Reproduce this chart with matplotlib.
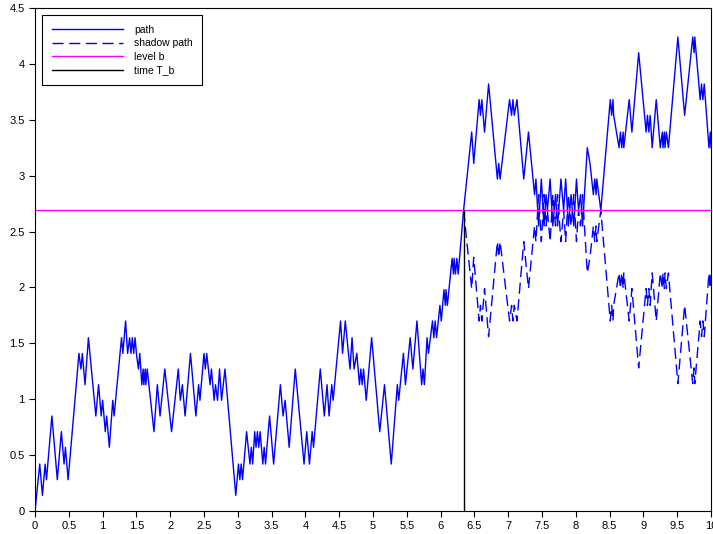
import matplotlib
matplotlib.use("Agg")
import matplotlib.pyplot as plt
from matplotlib.ticker import FormatStrFormatter, MultipleLocator

plt.rcParams['font.family'] = ['Liberation Sans', 'DejaVu Sans']

# Turning points of the random walk (time, value)
path_t = [0.00, 0.07, 0.11, 0.15, 0.17, 0.25, 0.33, 0.39, 0.43, 0.45, 0.49,
          0.65, 0.68, 0.70, 0.74, 0.79, 0.90, 0.94, 0.98, 1.00, 1.04, 1.06,
          1.10, 1.15, 1.17, 1.28, 1.30, 1.34, 1.37, 1.40, 1.42, 1.44, 1.46,
          1.48, 1.50, 1.53, 1.55, 1.58, 1.60, 1.61, 1.63, 1.64, 1.66, 1.76,
          1.81, 1.85, 1.92, 2.02, 2.12, 2.15, 2.18, 2.22, 2.30, 2.38, 2.42,
          2.44, 2.50, 2.52, 2.54, 2.59, 2.61, 2.65, 2.67, 2.70, 2.73, 2.76,
          2.81, 2.97, 3.01, 3.03, 3.05, 3.07, 3.13, 3.18, 3.20, 3.22, 3.25,
          3.27, 3.29, 3.31, 3.33, 3.37, 3.39, 3.41, 3.47, 3.53, 3.63, 3.67,
          3.70, 3.76, 3.85, 3.98, 4.02, 4.06, 4.10, 4.12, 4.22, 4.28, 4.32,
          4.35, 4.39, 4.41, 4.52, 4.55, 4.59, 4.66, 4.69, 4.72, 4.76, 4.80,
          4.82, 4.84, 4.86, 4.90, 4.98, 5.10, 5.17, 5.27, 5.36, 5.38, 5.45,
          5.48, 5.55, 5.59, 5.65, 5.72, 5.74, 5.76, 5.80, 5.82, 5.88, 5.90,
          5.92, 5.94, 5.99, 6.01, 6.05, 6.07, 6.08, 6.10, 6.17, 6.19, 6.20,
          6.22, 6.24, 6.26, 6.34, 6.46, 6.49, 6.57, 6.59, 6.61, 6.65, 6.71,
          6.84, 6.86, 6.88, 7.02, 7.05, 7.07, 7.09, 7.13, 7.23, 7.30, 7.39,
          7.41, 7.45, 7.49, 7.53, 7.56, 7.58, 7.62, 7.66, 7.70, 7.73, 7.78,
          7.82, 7.85, 7.89, 7.93, 7.97, 8.01, 8.04, 8.07, 8.10, 8.17, 8.21,
          8.26, 8.28, 8.30, 8.31, 8.37, 8.51, 8.53, 8.55, 8.56, 8.64, 8.66,
          8.68, 8.70, 8.71, 8.79, 8.83, 8.93, 9.04, 9.06, 9.08, 9.10, 9.13,
          9.19, 9.25, 9.28, 9.29, 9.31, 9.32, 9.34, 9.37, 9.51, 9.61, 9.73,
          9.75, 9.76, 9.84, 9.86, 9.88, 9.90, 9.97, 9.99, 10.00]
path_y = [0.00, 0.42, 0.14, 0.42, 0.28, 0.85, 0.28, 0.71, 0.42, 0.57, 0.28,
          1.41, 1.27, 1.41, 1.13, 1.55, 0.85, 1.13, 0.85, 0.99, 0.71, 0.85,
          0.57, 0.99, 0.85, 1.55, 1.41, 1.70, 1.41, 1.55, 1.41, 1.55, 1.41,
          1.55, 1.41, 1.27, 1.41, 1.13, 1.27, 1.13, 1.27, 1.13, 1.27, 0.71,
          1.13, 0.85, 1.27, 0.71, 1.27, 0.99, 1.13, 0.85, 1.41, 0.85, 1.13,
          0.99, 1.41, 1.27, 1.41, 1.13, 1.27, 0.99, 1.13, 0.99, 1.27, 0.99,
          1.27, 0.14, 0.42, 0.28, 0.42, 0.28, 0.71, 0.42, 0.57, 0.42, 0.71,
          0.57, 0.71, 0.57, 0.71, 0.42, 0.57, 0.42, 0.85, 0.42, 1.13, 0.85,
          0.99, 0.57, 1.27, 0.42, 0.71, 0.42, 0.71, 0.57, 1.27, 0.85, 1.13,
          0.85, 1.13, 0.99, 1.70, 1.41, 1.70, 1.27, 1.55, 1.27, 1.41, 1.13,
          1.27, 1.13, 1.27, 0.99, 1.55, 0.71, 1.13, 0.42, 1.13, 0.99, 1.41,
          1.13, 1.55, 1.27, 1.70, 1.13, 1.27, 1.13, 1.55, 1.41, 1.70, 1.55,
          1.70, 1.55, 1.84, 1.70, 1.98, 1.84, 1.98, 1.84, 2.26, 2.12, 2.26,
          2.12, 2.26, 2.12, 2.69, 3.39, 3.11, 3.68, 3.54, 3.68, 3.39, 3.82,
          2.97, 3.11, 2.97, 3.68, 3.54, 3.68, 3.54, 3.68, 2.97, 3.39, 2.83,
          2.97, 2.55, 2.97, 2.55, 2.83, 2.69, 2.97, 2.55, 2.83, 2.55, 2.97,
          2.69, 2.97, 2.55, 2.83, 2.55, 2.97, 2.69, 2.83, 2.55, 3.25, 3.11,
          2.83, 2.97, 2.83, 2.97, 2.69, 3.68, 3.54, 3.68, 3.54, 3.25, 3.39,
          3.25, 3.39, 3.25, 3.68, 3.39, 4.10, 3.39, 3.54, 3.39, 3.54, 3.25,
          3.68, 3.25, 3.39, 3.25, 3.39, 3.25, 3.39, 3.25, 4.24, 3.54, 4.24,
          4.10, 4.24, 3.68, 3.82, 3.68, 3.82, 3.25, 3.39, 3.25]

# Level b and the first hitting time T_b
level_b = 2.69
time_Tb = 6.34

# Shadow path: the path reflected about b after T_b
shadow_t = [t for t in path_t if t >= time_Tb]
shadow_y = [2 * level_b - y for t, y in zip(path_t, path_y) if t >= time_Tb]

fig = plt.figure(figsize=(7.13, 5.34), dpi=100)
ax = fig.add_axes([35 / 713, 23 / 534, 676 / 713, 503 / 534])

ax.plot(path_t, path_y, color='blue', linewidth=1, label='path')
ax.plot(shadow_t, shadow_y, color='blue', linewidth=1, linestyle=(0, (8, 4)),
        label='shadow path')
ax.axhline(level_b, color='magenta', linewidth=1, label='level b')
ax.plot([time_Tb, time_Tb], [0, level_b], color='black', linewidth=1,
        label='time T_b')

ax.set_xlim(0, 10)
ax.set_ylim(0, 4.5)
ax.xaxis.set_major_locator(MultipleLocator(0.5))
ax.yaxis.set_major_locator(MultipleLocator(0.5))
ax.xaxis.set_major_formatter(FormatStrFormatter('%g'))
ax.yaxis.set_major_formatter(FormatStrFormatter('%g'))
ax.tick_params(labelsize=8, length=4, width=0.8)

leg = ax.legend(loc='upper left', fontsize=7.5, handlelength=6.8,
                handletextpad=1.1, borderpad=0.9, fancybox=False,
                framealpha=1, edgecolor='black', borderaxespad=0.7,
                labelspacing=0.35)
leg.get_frame().set_linewidth(0.8)

fig.savefig('out.png', dpi=100)
